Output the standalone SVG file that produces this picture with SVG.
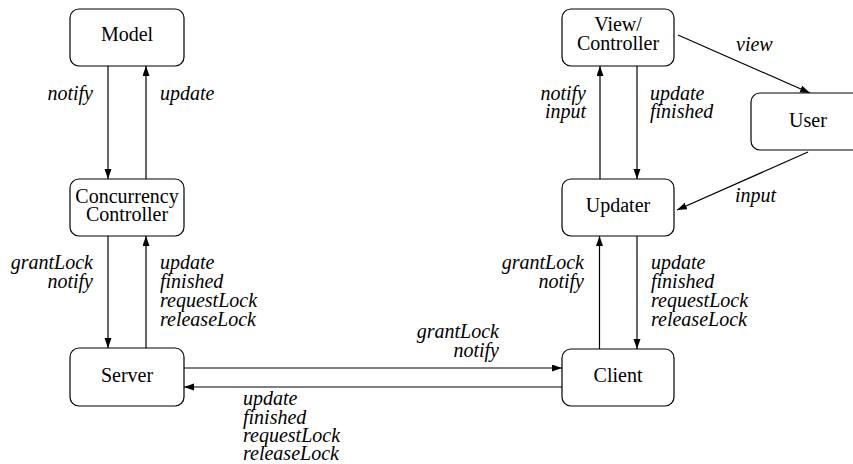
<svg xmlns="http://www.w3.org/2000/svg" width="853" height="464" viewBox="0 0 853 464">
<style>
.box{fill:#fff;stroke:#000;stroke-width:1.2}
.nt{font-size:20px;text-anchor:middle;fill:#000}
.lb{font-size:20px;font-style:italic;fill:#000}
.r{text-anchor:end}
.ln{stroke:#000;stroke-width:1.2;fill:none;marker-end:url(#ah)}
</style>
<defs>
<marker id="ah" markerUnits="userSpaceOnUse" markerWidth="11" markerHeight="8" refX="10" refY="3.5" orient="auto">
<path d="M0,0 L10,3.5 L0,7 z" fill="#000"/>
</marker>
</defs>
<rect width="853" height="464" fill="#fff"/>
<g id="connectors">
<line class="ln" x1="108" y1="66" x2="108" y2="179"/>
<line class="ln" x1="146" y1="179" x2="146" y2="66"/>
<line class="ln" x1="108" y1="236" x2="108" y2="348"/>
<line class="ln" x1="146" y1="348" x2="146" y2="236"/>
<line class="ln" x1="184" y1="368" x2="562" y2="368"/>
<line class="ln" x1="562" y1="387" x2="184" y2="387"/>
<line class="ln" x1="637" y1="66" x2="637" y2="179"/>
<line class="ln" x1="600" y1="179" x2="600" y2="66"/>
<line class="ln" x1="637" y1="236" x2="637" y2="349"/>
<line class="ln" x1="599.5" y1="349" x2="599.5" y2="236"/>
<line class="ln" x1="678" y1="35" x2="810" y2="93"/>
<line class="ln" x1="808" y1="152" x2="677" y2="210"/>
</g>
<g id="labels" font-family="'Liberation Serif', 'Times New Roman', 'DejaVu Serif', serif">
<text class="lb r" x="93" y="100">notify</text>
<text class="lb" x="160" y="100">update</text>
<text class="lb r" x="93" y="269">grantLock</text>
<text class="lb r" x="93" y="288">notify</text>
<text class="lb" x="160" y="269">update</text>
<text class="lb" x="160" y="288">finished</text>
<text class="lb" x="160" y="307">requestLock</text>
<text class="lb" x="160" y="326">releaseLock</text>
<text class="lb r" x="499" y="338">grantLock</text>
<text class="lb r" x="499" y="357">notify</text>
<text class="lb" x="243" y="405">update</text>
<text class="lb" x="243" y="424">finished</text>
<text class="lb" x="243" y="442">requestLock</text>
<text class="lb" x="243" y="460">releaseLock</text>
<text class="lb r" x="586" y="100">notify</text>
<text class="lb r" x="586" y="118">input</text>
<text class="lb" x="650" y="100">update</text>
<text class="lb" x="650" y="118">finished</text>
<text class="lb" x="736" y="51">view</text>
<text class="lb" x="735" y="202">input</text>
<text class="lb r" x="584" y="269">grantLock</text>
<text class="lb r" x="584" y="288">notify</text>
<text class="lb" x="651" y="269">update</text>
<text class="lb" x="651" y="288">finished</text>
<text class="lb" x="651" y="307">requestLock</text>
<text class="lb" x="651" y="326">releaseLock</text>
</g>
<g id="nodes" font-family="'Liberation Serif', 'Times New Roman', 'DejaVu Serif', serif">
<g id="model"><rect class="box" x="70" y="9" width="114" height="57" rx="9"/><text class="nt" x="127" y="41">Model</text></g>
<g id="concurrency"><rect class="box" x="70" y="179" width="114" height="57" rx="9"/><text class="nt" x="127" y="203">Concurrency</text><text class="nt" x="127" y="221">Controller</text></g>
<g id="server"><rect class="box" x="70" y="348" width="114" height="58" rx="9"/><text class="nt" x="127" y="382">Server</text></g>
<g id="viewcontroller"><rect class="box" x="562" y="9" width="112" height="57" rx="9"/><text class="nt" x="618" y="31">View/</text><text class="nt" x="618" y="50">Controller</text></g>
<g id="updater"><rect class="box" x="562" y="179" width="112" height="57" rx="9"/><text class="nt" x="618" y="212">Updater</text></g>
<g id="client"><rect class="box" x="562" y="349" width="112" height="57" rx="9"/><text class="nt" x="618" y="382">Client</text></g>
<g id="user"><rect class="box" x="751" y="93" width="114" height="57" rx="9"/><text class="nt" x="808" y="127">User</text></g>
</g>
</svg>
